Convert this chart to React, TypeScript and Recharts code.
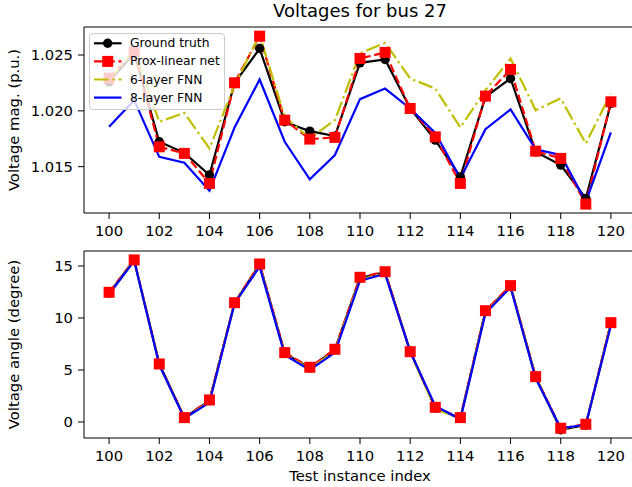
import { LineChart, Line, XAxis, YAxis, Legend, ReferenceLine } from 'recharts'

const testIndex = [100, 101, 102, 103, 104, 105, 106, 107, 108, 109, 110, 111, 112, 113, 114, 115, 116, 117, 118, 119, 120]
const xTicks = [100, 102, 104, 106, 108, 110, 112, 114, 116, 118, 120]
const magTicks = [1.015, 1.02, 1.025]
const angTicks = [0, 5, 10, 15]
const magDomain = [1.01085, 1.02751]
const angDomain = [-1.54, 16.44]

// voltage magnitude (p.u.)
const gtMag = [1.0226, 1.02516, 1.01723, 1.01624, 1.01425, 1.02248, 1.02558, 1.01902, 1.01818, 1.01774, 1.0243, 1.0246, 1.02021, 1.01738, 1.01409, 1.02125, 1.0229, 1.01633, 1.01514, 1.01216, 1.02066]
const proxMag = [1.02293, 1.02528, 1.01678, 1.01619, 1.0135, 1.02251, 1.02669, 1.01917, 1.01747, 1.01762, 1.02469, 1.02523, 1.02021, 1.01767, 1.0135, 1.02132, 1.02371, 1.01639, 1.01574, 1.01165, 1.02081]
const fnn6Mag = [1.02275, 1.02543, 1.01902, 1.01982, 1.01663, 1.0223, 1.02678, 1.01946, 1.01753, 1.01917, 1.02514, 1.02609, 1.0229, 1.022, 1.01851, 1.02185, 1.02469, 1.02006, 1.02111, 1.01708, 1.02156]
const fnn8Mag = [1.01857, 1.02096, 1.01588, 1.01535, 1.01284, 1.01851, 1.02281, 1.01723, 1.01386, 1.01604, 1.02105, 1.022, 1.02021, 1.01803, 1.01395, 1.01836, 1.02013, 1.01655, 1.01604, 1.01186, 1.01807]

// voltage angle (degree)
const gtAng = [12.4, 15.55, 5.6, 0.4, 2.05, 11.45, 15.15, 6.6, 5.2, 6.95, 13.85, 14.4, 6.8, 1.35, 0.35, 10.65, 13.05, 4.35, -0.75, -0.3, 9.5]
const proxAng = [12.47, 15.58, 5.58, 0.42, 2.12, 11.47, 15.19, 6.67, 5.26, 6.99, 13.91, 14.45, 6.76, 1.41, 0.42, 10.7, 13.11, 4.36, -0.6, -0.22, 9.55]
const fnn6Ang = [12.35, 15.5, 5.5, 0.35, 1.95, 11.4, 15.0, 6.5, 5.1, 6.85, 13.7, 14.3, 6.7, 1.25, 0.3, 10.55, 12.95, 4.25, -0.7, -0.3, 9.4]
const fnn8Ang = [12.28, 15.5, 5.5, 0.35, 1.87, 11.4, 14.94, 6.44, 5.0, 6.67, 13.59, 14.23, 6.76, 1.54, 0.26, 10.45, 12.95, 4.2, -0.6, -0.27, 9.3]

const magRows = testIndex.map((idx, i) => ({ idx, gt: gtMag[i], prox: proxMag[i], fnn6: fnn6Mag[i], fnn8: fnn8Mag[i] }))
const angRows = testIndex.map((idx, i) => ({ idx, gt: gtAng[i], prox: proxAng[i], fnn6: fnn6Ang[i], fnn8: fnn8Ang[i] }))

const LW = 2.2
const RED_DASH = '8.5 3.7'
const DASH_DOT = '14.7 3.7 2.3 3.7'
const C = { gt: '#000000', prox: '#ff0000', fnn6: '#bfbf00', fnn8: '#0000ff' }
const TICK = { fontSize: 14.8, fill: '#000' }

const squareDot = (props: any) => {
  const { cx, cy, index } = props
  if (cx == null || cy == null) return <g key={'sq' + index} />
  return <rect key={'sq' + index} x={cx - 5.5} y={cy - 5.5} width={11} height={11} fill={C.prox} />
}

const LEGEND_ROWS = [
  { name: 'Ground truth', color: C.gt, dash: undefined, marker: 'circle' },
  { name: 'Prox-linear net', color: C.prox, dash: RED_DASH, marker: 'square' },
  { name: '6-layer FNN', color: C.fnn6, dash: DASH_DOT, marker: 'none' },
  { name: '8-layer FNN', color: C.fnn8, dash: undefined, marker: 'none' },
]

function LegendBox() {
  return (
    <div
      style={{
        width: 136,
        height: 77,
        boxSizing: 'border-box',
        border: '1px solid #cccccc',
        borderRadius: 4,
        background: 'rgba(255,255,255,0.8)',
      }}
    >
      <svg width={134} height={75} style={{ display: 'block' }}>
        {LEGEND_ROWS.map((r, i) => {
          const y = 9.3 + i * 18.1
          return (
            <g key={r.name}>
              <line x1={4} x2={31.5} y1={y} y2={y} stroke={r.color} strokeWidth={LW} strokeDasharray={r.dash} />
              {r.marker === 'circle' && <circle cx={17.7} cy={y} r={4.7} fill={r.color} />}
              {r.marker === 'square' && <rect x={12.2} y={y - 5.5} width={11} height={11} fill={r.color} />}
              <text x={40} y={y} dominantBaseline="central" fontSize={12.3} fill="#000" fontFamily='"DejaVu Sans", sans-serif'>
                {r.name}
              </text>
            </g>
          )
        })}
      </svg>
    </div>
  )
}

export default function App() {
  return (
    <div
      style={{
        position: 'absolute',
        left: 0,
        top: 0,
        width: 632,
        height: 487,
        overflow: 'hidden',
        background: '#fff',
        fontFamily: '"DejaVu Sans", sans-serif',
      }}
    >
      <svg width={632} height={27} style={{ position: 'absolute', left: 0, top: 0 }}>
        <text x={360} y={17} textAnchor="middle" fontSize={18} fill="#000" fontFamily='"DejaVu Sans", sans-serif'>
          Voltages for bus 27
        </text>
      </svg>
      <div style={{ position: 'absolute', left: 0, top: 0 }}>
        <LineChart width={636} height={245} data={magRows} margin={{ top: 27, right: 0, bottom: 0, left: 0 }}>
          <XAxis
            dataKey="idx"
            type="number"
            domain={[99, 121]}
            ticks={xTicks}
            interval={0}
            allowDataOverflow
            height={32}
            tickSize={6}
            tickMargin={6}
            tick={TICK}
            axisLine={{ stroke: '#000' }}
            tickLine={{ stroke: '#000' }}
          />
          <YAxis
            type="number"
            domain={magDomain}
            ticks={magTicks}
            allowDataOverflow
            width={84}
            tickSize={6}
            tickMargin={5}
            tick={TICK}
            tickFormatter={(v: number) => v.toFixed(3)}
            axisLine={{ stroke: '#000' }}
            tickLine={{ stroke: '#000' }}
            label={{
              value: 'Voltage mag. (p.u.)',
              angle: -90,
              position: 'insideLeft',
              offset: 14,
              fontSize: 14.8,
              fill: '#000',
              style: { textAnchor: 'middle' },
            }}
          />
          <ReferenceLine y={magDomain[1]} stroke="#000" strokeWidth={1} ifOverflow="visible" />
          <Legend
            layout="vertical"
            align="center"
            verticalAlign="middle"
            wrapperStyle={{ left: 89, top: 33, width: 136, height: 77 }}
            content={() => <LegendBox />}
          />
          <Line type="linear" dataKey="gt" name="Ground truth" stroke={C.gt} strokeWidth={LW} dot={{ r: 4.7, fill: C.gt, stroke: 'none' }} isAnimationActive={false} />
          <Line type="linear" dataKey="prox" name="Prox-linear net" stroke={C.prox} strokeWidth={LW} strokeDasharray={RED_DASH} dot={squareDot} isAnimationActive={false} />
          <Line type="linear" dataKey="fnn6" name="6-layer FNN" stroke={C.fnn6} strokeWidth={LW} strokeDasharray={DASH_DOT} dot={false} isAnimationActive={false} />
          <Line type="linear" dataKey="fnn8" name="8-layer FNN" stroke={C.fnn8} strokeWidth={LW} dot={false} isAnimationActive={false} />
        </LineChart>
      </div>
      <div style={{ position: 'absolute', left: 0, top: 245 }}>
        <LineChart width={636} height={242} data={angRows} margin={{ top: 6, right: 0, bottom: 0, left: 0 }}>
          <XAxis
            dataKey="idx"
            type="number"
            domain={[99, 121]}
            ticks={xTicks}
            interval={0}
            allowDataOverflow
            height={49}
            tickSize={6}
            tickMargin={6}
            tick={TICK}
            axisLine={{ stroke: '#000' }}
            tickLine={{ stroke: '#000' }}
            label={{ value: 'Test instance index', position: 'insideBottom', offset: 6, fontSize: 14.8, fill: '#000' }}
          />
          <YAxis
            type="number"
            domain={angDomain}
            ticks={angTicks}
            allowDataOverflow
            width={84}
            tickSize={6}
            tickMargin={5}
            tick={TICK}
            axisLine={{ stroke: '#000' }}
            tickLine={{ stroke: '#000' }}
            label={{
              value: 'Voltage angle (degree)',
              angle: -90,
              position: 'insideLeft',
              offset: 14,
              fontSize: 14.8,
              fill: '#000',
              style: { textAnchor: 'middle' },
            }}
          />
          <ReferenceLine y={angDomain[1]} stroke="#000" strokeWidth={1} ifOverflow="visible" />
          <Line type="linear" dataKey="gt" stroke={C.gt} strokeWidth={LW} dot={{ r: 4.7, fill: C.gt, stroke: 'none' }} isAnimationActive={false} />
          <Line type="linear" dataKey="prox" stroke={C.prox} strokeWidth={LW} strokeDasharray={RED_DASH} dot={squareDot} isAnimationActive={false} />
          <Line type="linear" dataKey="fnn6" stroke={C.fnn6} strokeWidth={LW} strokeDasharray={DASH_DOT} dot={false} isAnimationActive={false} />
          <Line type="linear" dataKey="fnn8" stroke={C.fnn8} strokeWidth={LW} dot={false} isAnimationActive={false} />
        </LineChart>
      </div>
    </div>
  )
}
